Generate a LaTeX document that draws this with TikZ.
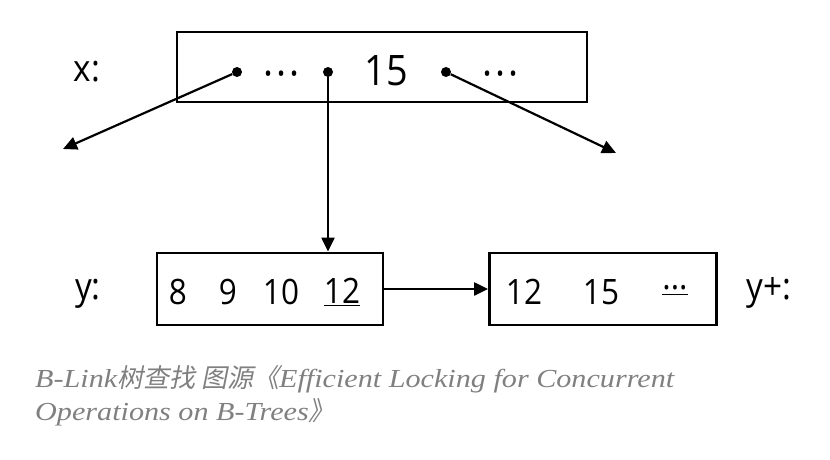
\documentclass[tikz,border=0pt]{standalone}
\usepackage{fontspec}
\newfontfamily\keyfont[FakeStretch=0.9]{Open Sans}
\newfontfamily\capfont[FakeStretch=1.16]{Liberation Serif Italic}
\newfontfamily\cjk[FakeSlant=0.2]{Noto Sans CJK SC}
\usetikzlibrary{positioning,arrows.meta}

\tikzset{
  keybox/.style={draw, line width=2.8pt, inner sep=0pt},
  ptr/.style={circle, fill, inner sep=0pt, minimum size=10pt},
  key/.style={inner sep=1pt, font=\keyfont\fontsize{35}{40}\selectfont},
  bigkey/.style={inner sep=1pt, font=\keyfont\fontsize{42}{46}\selectfont},
  lbl/.style={inner sep=1pt, font=\keyfont\fontsize{37}{42}\selectfont},
  link/.style={line width=2.2pt, -{Triangle[length=14pt,width=13pt]}},
  capline/.style={anchor=west, inner sep=0pt, text=black!50,
    font=\capfont\fontsize{26}{30}\selectfont}
}
\newcommand\midots{·\kern3pt·\kern3pt·}

\begin{document}
\begin{tikzpicture}[x=1pt,y=-1pt]
  \useasboundingbox (0,0) rectangle (830,460);

  % upper node x
  \node[lbl] (xlbl) at (87,72) {x:};
  \node[keybox, minimum width=410pt, minimum height=70pt] (xnode) at (382,67) {};
  \node[ptr] (p1) at (237,72) {};
  \node[bigkey] (xdots1) at (282,80) {\midots};
  \node[ptr] (p2) at (328,72) {};
  \node[bigkey] (k15) at (386,71) {15};
  \node[ptr] (p3) at (446,72) {};
  \node[bigkey] (xdots2) at (501,80) {\midots};

  % free ends of the outer pointers
  \coordinate (lend) at (63,149);
  \coordinate (rend) at (616,153);

  % lower nodes y and y+
  \node[lbl] (ylbl) at (88,294) {y:};
  \node[keybox, minimum width=226pt, minimum height=72pt] (ynode) at (270,289) {};
  \node[key] (y8) at (178,292) {8};
  \node[key] (y9) at (228,292) {9};
  \node[key] (y10) at (281,292) {10};
  \node[key] (y12) at (342,292) {\underline{12}};

  \node[keybox, minimum width=227pt, minimum height=72pt] (yplus) at (603,289) {};
  \node[key] (z12) at (524,292) {12};
  \node[key] (z15) at (601,292) {15};
  \node[key] (zdots) at (675,290) {\underline{\raisebox{4pt}{...}}};
  \node[lbl] (yplbl) at (769,293) {y+:};

  % pointers
  \draw[link] (p1) -- (lend);
  \draw[link] (p3) -- (rend);
  \draw[link] (p2) -- (p2 |- ynode.north);
  \draw[link] (ynode.east) -- (yplus.west);

  % caption
  \node[capline] (cap1) at (35,379) {B-Link{\cjk 树查找 图源《}Efficient Locking for Concurrent};
  \node[capline] (cap2) at (35,412) {Operations on B-Trees{\cjk 》}};
\end{tikzpicture}
\end{document}
